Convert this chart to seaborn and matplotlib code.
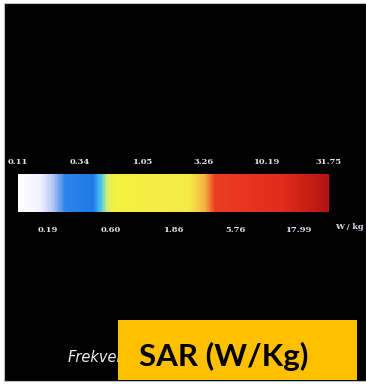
import numpy as np
import matplotlib
matplotlib.use("Agg")
import matplotlib.pyplot as plt
import seaborn as sns
from matplotlib.colors import LinearSegmentedColormap, LogNorm
from matplotlib.patches import Rectangle

# SAR scale values (W/kg)
top_ticks = [0.11, 0.34, 1.05, 3.26, 10.19, 31.75]
top_labels = ["0.11", "0.34", "1.05", "3.26", "10.19", "31.75"]
bottom_ticks = [0.19, 0.60, 1.86, 5.76, 17.99]
bottom_labels = ["0.19", "0.60", "1.86", "5.76", "17.99"]

# colour stops along the bar (fraction of log range)
stop_pos = [0.0, 0.07, 0.11, 0.15, 0.24, 0.265, 0.285, 0.31, 0.55, 0.60, 0.635, 0.85, 1.0]
stop_col = ["#ffffff", "#f2f2ff", "#b8c6f4", "#2e84ec", "#1f78e6", "#46c4ee",
            "#d4ee70", "#f4f03e", "#f5ea48", "#f6b440", "#ec3c22", "#e02c1a", "#b41410"]

sns.set_theme(style="white")
plt.rcParams["font.family"] = ["DejaVu Sans"]

W, H = 366, 384
fig = plt.figure(figsize=(W / 100, H / 100), dpi=100)
fig.patch.set_facecolor("white")

# black slide background
fig.add_artist(Rectangle((4 / W, 1 - 381 / H), (W - 4) / W, 378 / H,
                         transform=fig.transFigure, facecolor="black",
                         edgecolor="#b8c4c4", linewidth=0.8, zorder=0))

# colour bar
ax = fig.add_axes([18 / W, 1 - 212 / H, 311 / W, 38 / H])
cmap = LinearSegmentedColormap.from_list("sar", list(zip(stop_pos, stop_col)))
lo, hi = top_ticks[0], top_ticks[-1]
edges = np.geomspace(lo, hi, 400)
centers = np.sqrt(edges[:-1] * edges[1:])
ax.pcolormesh(edges, [0, 1], centers[np.newaxis, :], cmap=cmap,
              norm=LogNorm(vmin=lo, vmax=hi), shading="flat")
ax.set_xscale("log")
ax.set_xlim(lo, hi)
ax.set_ylim(0, 1)
ax.set_yticks([])
ax.minorticks_off()
for s in ax.spines.values():
    s.set_visible(False)

tick_font = dict(family="DejaVu Serif", size=6, weight="bold", color="#dde4ec")
ax.xaxis.tick_top()
ax.set_xticks(top_ticks)
ax.set_xticklabels(top_labels, **tick_font)
ax.tick_params(axis="x", length=0, pad=6)

sec = ax.secondary_xaxis("bottom")
sec.set_xticks(bottom_ticks)
sec.set_xticklabels(bottom_labels, **tick_font)
sec.tick_params(axis="x", length=0, pad=10)
sec.minorticks_off()
for s in sec.spines.values():
    s.set_visible(False)

fig.text(335 / W, 1 - 227 / H, "W / kg", family="DejaVu Serif", size=5.8,
         weight="bold", color="#dde4ec", va="center", ha="left")

# caption, cut short by the label box as in the slide
fig.text(68 / W, 1 - 358 / H, "Frekvei", family=["DejaVu Sans"],
         style="italic", size=10.5, color="#eef2f2", va="center", ha="left", zorder=1)

# yellow label box
fig.add_artist(Rectangle((118 / W, 1 - 380 / H), 239 / W, 60 / H,
                         transform=fig.transFigure, facecolor="#ffc000",
                         edgecolor="none", zorder=2))
fig.text(224 / W, 1 - 356 / H, "SAR (W/Kg)", family=["Lato", "DejaVu Sans"],
         weight="bold", size=22.5, color="black", va="center", ha="center", zorder=3)

fig.savefig("out.png", dpi=100, facecolor=fig.get_facecolor())
